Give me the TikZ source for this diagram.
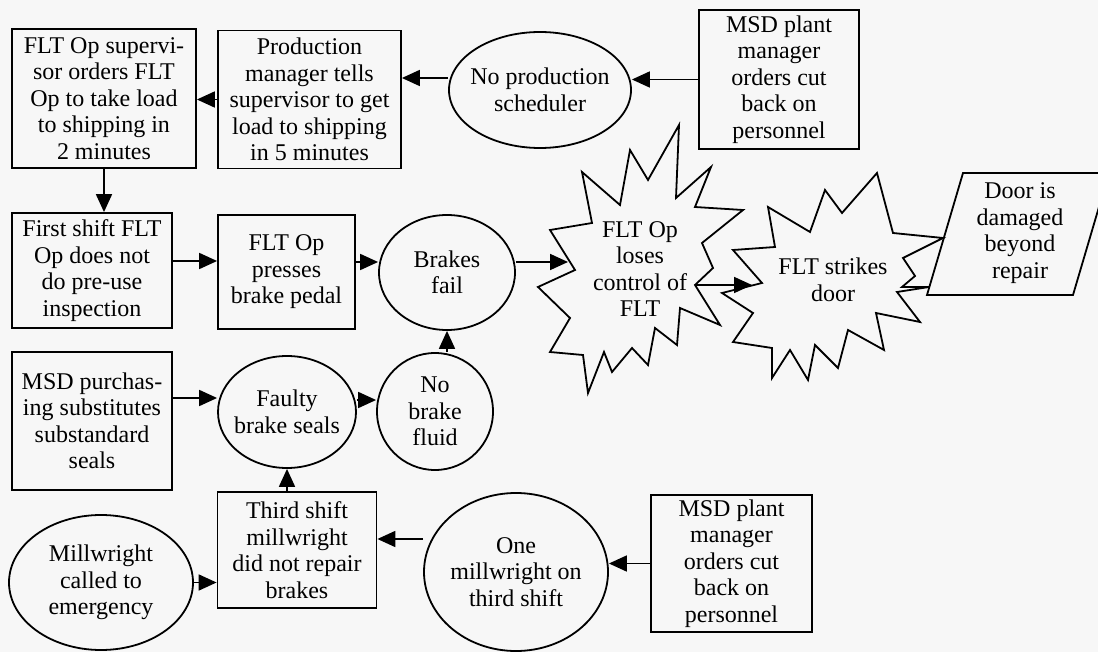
\documentclass[tikz,border=0pt]{standalone}
\usepackage{fontspec}
\setmainfont{Liberation Serif}
\usetikzlibrary{shapes.geometric,arrows.meta}
\begin{document}
\begin{tikzpicture}[x=1pt,y=-1pt,
  txt/.style={align=center,font=\fontsize{24}{26.5}\selectfont,inner sep=2pt},
  box/.style={txt,draw,line width=1.8pt},
  oval/.style={txt,draw,ellipse,line width=1.8pt,inner xsep=-12pt,inner ysep=0pt},
  burst/.style={line width=1.8pt,line join=miter},
  arr/.style={line width=1.8pt,-{Triangle[length=18pt,width=16pt]}}]
\path[fill=black!3,use as bounding box] (0,0) rectangle (1098,652);

\node[box,minimum width=184pt,minimum height=139pt] (sup) at (104,98.5) {FLT Op supervi-\\sor orders FLT\\Op to take load\\to shipping in\\2 minutes};
\node[box,minimum width=183pt,minimum height=138pt] (prodmgr) at (309.5,99.5) {Production\\manager tells\\supervisor to get\\load to shipping\\in 5 minutes};
\node[oval,minimum width=182pt,minimum height=116pt] (nosched) at (540,90) {No production\\scheduler};
\node[box,minimum width=160pt,minimum height=139pt] (plantmgr) at (779,79.5) {MSD plant\\manager\\orders cut\\back on\\personnel};

\node[box,minimum width=160pt,minimum height=115pt] (noinsp) at (92,270.5) {First shift FLT\\Op does not\\do pre-use\\inspection};
\node[box,minimum width=137pt,minimum height=114pt] (pedal) at (286.5,272) {FLT Op\\presses\\brake pedal};
\node[oval,minimum width=136pt,minimum height=115pt] (fail) at (447,272.5) {Brakes\\fail};

\draw[burst] (679,125) -- (676,198) -- (711,167) -- (695,207) -- (743,210) -- (702,243) -- (713,268) -- (695,285) -- (720,325) -- (680,308) -- (677,345) -- (655,328) -- (648,365) -- (632,348) -- (612,372) -- (604,352) -- (588,393) -- (583,355) -- (550,352) -- (570,318) -- (538,287) -- (575,270) -- (550,230) -- (592,223) -- (582,172) -- (620,205) -- (630,150) -- (648,180) -- cycle;
\node[txt] (control) at (640,269) {FLT Op\\loses\\control of\\FLT};
\draw[burst] (768,207) -- (810,232) -- (825,190) -- (842,213) -- (877,173) -- (893,233) -- (943,238) -- (903,258) -- (915,276) -- (902,287) -- (929,287) -- (897,292) -- (920,322) -- (876,313) -- (884,350) -- (848,330) -- (838,368) -- (815,345) -- (808,380) -- (790,350) -- (772,378) -- (772,348) -- (733,342) -- (753,313) -- (722,293) -- (762,283) -- (733,250) -- (775,247) -- cycle;
\node[txt] (strikes) at (833,280) {FLT strikes\\door};
\draw[burst] (963,173) -- (1109,173) -- (1073,295) -- (927,295) -- cycle;
\node[txt] (door) at (1020,233) {Door is\\damaged\\beyond\\repair};

\node[box,minimum width=160pt,minimum height=138pt] (purch) at (92,421) {MSD purchas-\\ing substitutes\\substandard\\seals};
\node[oval,minimum width=138pt,minimum height=112pt] (seals) at (287,412) {Faulty\\brake seals};
\node[oval,minimum width=116pt,minimum height=117pt] (fluid) at (435,411.5) {No\\brake\\fluid};

\node[oval,minimum width=184pt,minimum height=135pt] (emerg) at (101,582.5) {Millwright\\called to\\emergency};
\node[box,minimum width=159pt,minimum height=116pt] (millw) at (297,550) {Third shift\\millwright\\did not repair\\brakes};
\node[oval,minimum width=184pt,minimum height=158pt] (onemill) at (516,572) {One\\millwright on\\third shift};
\node[box,minimum width=161pt,minimum height=137pt] (cutback) at (731.5,563.5) {MSD plant\\manager\\orders cut\\back on\\personnel};

\coordinate (ctlin) at (568,262);
\coordinate (ctlout) at (695,285);
\coordinate (strin) at (752,285);

\draw[arr] (plantmgr.west) -- (plantmgr.west -| nosched.east);
\draw[arr] ([yshift=12pt]nosched.west) -- ([yshift=12pt]nosched.west -| prodmgr.east);
\draw[arr] (prodmgr.west) -- (prodmgr.west -| sup.east);
\draw[arr] (sup.south) -- (sup.south |- noinsp.north);
\draw[arr] ([yshift=9.5pt]noinsp.east) -- ([yshift=9.5pt]noinsp.east -| pedal.west);
\draw[arr] ([yshift=10pt]pedal.east) -- ([yshift=10pt]pedal.east -| fail.west);
\draw[arr] ([yshift=10.5pt]fail.east) -- (ctlin);
\draw[arr] (ctlout) -- (strin);
\draw[arr] (fail.south |- fluid.north) -- (fail.south);
\draw[arr] ([yshift=23pt]purch.east) -- ([yshift=23pt]purch.east -| seals.west);
\draw[arr] ([yshift=12pt]seals.east) -- ([yshift=12pt]seals.east -| fluid.west);
\draw[arr] (millw.north -| seals.south) -- (seals.south);
\draw[arr] (emerg.east) -- (emerg.east -| millw.west);
\draw[arr] ([yshift=33pt]onemill.west) -- ([yshift=33pt]onemill.west -| millw.east);
\draw[arr] (cutback.west) -- (cutback.west -| onemill.east);
\end{tikzpicture}
\end{document}
